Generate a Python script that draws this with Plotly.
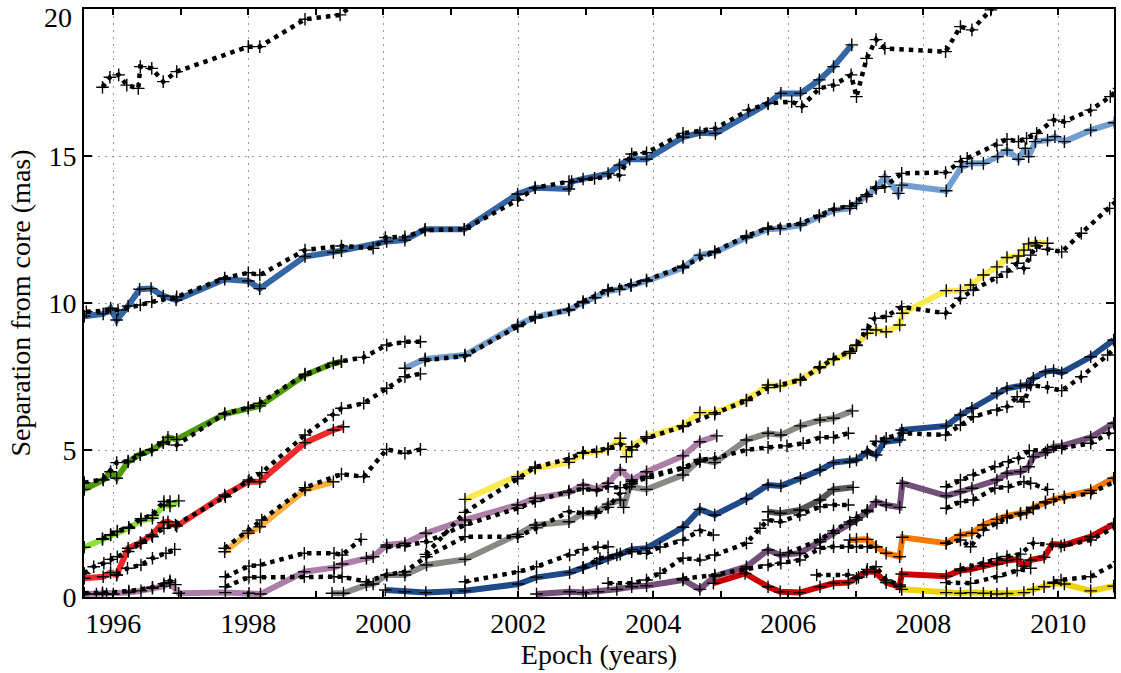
import plotly.graph_objects as go

# ---------------- solid component tracks (epoch in years, separation in mas) ----------------
sky_t = [1995.57, 1995.85, 1995.96, 1996.05, 1996.22, 1996.39, 1996.56, 1996.74, 1996.93, 1997.65,
         1998.0, 1998.17, 1998.84, 1999.26, 1999.38, 2000.05, 2000.32, 2000.62, 2001.2, 2001.99,
         2002.25, 2002.75, 2002.79, 2002.96, 2003.33, 2003.5, 2003.65, 2003.9, 2004.44, 2004.69,
         2004.92, 2005.7, 2005.89, 2006.18, 2006.46, 2006.67, 2006.94]
sky_r = [9.55, 9.63, 9.82, 9.42, 9.9, 10.47, 10.49, 10.24, 10.1, 10.81,
         10.75, 10.49, 11.58, 11.72, 11.78, 12.09, 12.14, 12.51, 12.51, 13.71,
         13.92, 13.88, 14.13, 14.22, 14.4, 14.69, 14.89, 14.89, 15.64, 15.79,
         15.77, 16.79, 17.13, 17.13, 17.59, 18.04, 18.78]

pale_t = [2000.32, 2000.62, 2001.21, 2001.99, 2002.25, 2002.75, 2002.96, 2003.14, 2003.33, 2003.5,
          2003.67, 2003.9, 2004.44, 2004.69, 2004.91, 2005.38, 2005.7, 2005.88, 2006.18, 2006.46,
          2006.68, 2006.91, 2007.01, 2007.16, 2007.3, 2007.43, 2007.63, 2007.68, 2008.34, 2008.57,
          2008.72, 2008.89, 2009.1, 2009.24, 2009.41, 2009.51, 2009.56, 2009.66, 2009.84, 2009.95,
          2010.09, 2010.48, 2010.83]
pale_r = [7.78, 8.1, 8.23, 9.25, 9.53, 9.76, 10.01, 10.18, 10.41, 10.47,
          10.59, 10.75, 11.2, 11.63, 11.72, 12.23, 12.51, 12.53, 12.65, 12.94,
          13.16, 13.22, 13.39, 13.62, 13.9, 14.3, 13.73, 14.01, 13.82, 14.64,
          14.75, 14.75, 14.98, 15.2, 14.89, 15.26, 14.98, 15.49, 15.54, 15.66,
          15.49, 15.88, 16.13]

green_t = [1995.57, 1995.85, 1995.96, 1996.05, 1996.22, 1996.4, 1996.57, 1996.74, 1996.81, 1996.94,
           1997.65, 1998.0, 1998.17, 1998.84, 1999.26, 1999.38]
green_r = [3.66, 3.98, 4.26, 4.04, 4.6, 4.86, 5.0, 5.25, 5.43, 5.36,
           6.22, 6.42, 6.5, 7.55, 7.95, 8.0]

lime_t = [1995.57, 1995.84, 1995.96, 1996.06, 1996.23, 1996.41, 1996.58, 1996.75, 1996.84, 1996.97]
lime_r = [1.69, 1.96, 2.11, 2.22, 2.34, 2.6, 2.68, 3.13, 3.1, 3.27]

scarlet_t = [1995.57, 1995.85, 1995.96, 1996.05, 1996.22, 1996.4, 1996.57, 1996.74, 1996.81, 1996.94,
             1997.65, 1998.0, 1998.17, 1998.84, 1999.26, 1999.41]
scarlet_r = [0.64, 0.69, 0.83, 0.75, 1.66, 1.85, 2.11, 2.53, 2.56, 2.41,
             3.47, 3.92, 3.92, 5.25, 5.68, 5.79]

apricot_t = [1997.65, 1998.0, 1998.17, 1998.84, 1999.26]
apricot_r = [1.54, 2.17, 2.39, 3.64, 3.92]

plum_t = [1995.57, 1995.75, 1995.84, 1995.9, 1996.0, 1996.23, 1996.41, 1996.58, 1996.75, 1996.84,
          1996.97, 1997.66, 1998.01, 1998.18, 1998.83, 1999.27, 1999.39, 1999.75, 1999.85, 2000.05,
          2000.32, 2000.63, 2001.21, 2001.99, 2002.25, 2002.75, 2002.96, 2003.16, 2003.33, 2003.51,
          2003.68, 2003.9, 2004.44, 2004.69, 2004.94]
plum_r = [0.1, 0.1, 0.1, 0.1, 0.1, 0.15, 0.21, 0.3, 0.37, 0.49,
          0.13, 0.15, 0.13, 0.1, 0.86, 1.0, 1.12, 1.32, 1.37, 1.77,
          1.83, 2.17, 2.62, 3.13, 3.36, 3.55, 3.81, 3.66, 3.87, 4.32,
          3.98, 4.26, 4.8, 5.28, 5.48]

butter_t = [2001.21, 2001.99, 2002.25, 2002.75, 2002.96, 2003.16, 2003.33, 2003.51, 2003.6, 2003.68,
            2003.9, 2004.44, 2004.69, 2004.91, 2005.38, 2005.7, 2005.88, 2006.18, 2006.47, 2006.67,
            2006.91, 2007.01, 2007.17, 2007.3, 2007.45, 2007.65, 2007.69, 2008.34, 2008.55, 2008.7,
            2008.89, 2009.09, 2009.24, 2009.41, 2009.49, 2009.56, 2009.66, 2009.84]
butter_r = [3.32, 4.09, 4.38, 4.58, 4.89, 4.94, 5.02, 5.4, 4.77, 5.11,
            5.45, 5.82, 6.27, 6.27, 6.7, 7.21, 7.18, 7.4, 7.83, 8.08,
            8.29, 8.57, 8.97, 9.08, 9.02, 9.25, 9.65, 10.42, 10.42, 10.61,
            10.95, 11.23, 11.55, 11.6, 11.8, 12.01, 12.05, 12.03]

ash_t = [1999.24, 1999.41, 1999.75, 1999.85, 2000.05, 2000.32, 2000.64, 2001.21, 2001.99, 2002.25,
         2002.75, 2002.96, 2003.14, 2003.33, 2003.51, 2003.56, 2003.65, 2003.9, 2004.44, 2004.69,
         2004.91, 2005.38, 2005.7, 2005.89, 2006.18, 2006.47, 2006.67, 2006.95]
ash_r = [0.13, 0.13, 0.41, 0.44, 0.75, 0.75, 1.09, 1.28, 2.13, 2.45,
         2.56, 2.85, 2.85, 3.16, 3.3, 3.05, 3.75, 3.66, 4.15, 4.68,
         4.57, 5.34, 5.57, 5.51, 5.82, 6.02, 6.08, 6.33]

navy_t = [2000.03, 2000.32, 2000.63, 2001.21, 2002.0, 2002.27, 2002.76, 2002.96, 2003.16, 2003.33,
          2003.51, 2003.68, 2003.9, 2004.44, 2004.69, 2004.91, 2005.38, 2005.7, 2005.89, 2006.18,
          2006.47, 2006.67, 2006.91, 2007.01, 2007.17, 2007.3, 2007.42, 2007.65, 2007.68, 2008.34,
          2008.55, 2008.72, 2009.09, 2009.24, 2009.44, 2009.53, 2009.63, 2009.81, 2009.93, 2010.05,
          2010.48, 2010.82]
navy_r = [0.24, 0.18, 0.15, 0.21, 0.44, 0.67, 0.83, 1.0, 1.15, 1.32,
          1.46, 1.62, 1.66, 2.37, 2.98, 2.79, 3.34, 3.81, 3.78, 4.04,
          4.32, 4.57, 4.6, 4.66, 4.94, 4.83, 5.28, 5.34, 5.68, 5.82,
          6.19, 6.42, 6.93, 7.1, 7.18, 7.21, 7.44, 7.66, 7.7, 7.63,
          8.17, 8.74]

slate_t = [2005.7, 2005.88, 2006.17, 2006.47, 2006.67, 2006.96]
slate_r = [2.9, 2.85, 2.96, 3.3, 3.66, 3.73]

grape_t = [2002.27, 2002.76, 2002.96, 2003.18, 2003.46, 2003.68, 2003.9, 2004.44, 2004.69, 2004.91,
           2005.38, 2005.7, 2005.88, 2006.17, 2006.47, 2006.67, 2006.91, 2007.01, 2007.17, 2007.3,
           2007.45, 2007.65, 2007.69, 2008.34, 2008.55, 2008.72, 2009.09, 2009.24, 2009.44, 2009.56,
           2009.63, 2009.81, 2009.93, 2010.05, 2010.48, 2010.82]
grape_r = [0.1, 0.18, 0.15, 0.18, 0.26, 0.35, 0.38, 0.58, 0.26, 0.71,
           1.03, 1.6, 1.43, 1.49, 1.88, 2.17, 2.48, 2.62, 2.9, 3.24,
           3.13, 3.05, 3.87, 3.44, 3.58, 3.7, 3.98, 4.21, 4.26, 4.43,
           4.77, 4.91, 5.11, 5.14, 5.43, 5.91]

tangerine_t = [2006.91, 2007.01, 2007.17, 2007.3, 2007.45, 2007.65, 2007.69, 2008.34, 2008.55, 2008.72,
               2008.89, 2009.09, 2009.24, 2009.44, 2009.53, 2009.63, 2009.81, 2009.93, 2010.09, 2010.48,
               2010.82]
tangerine_r = [1.94, 1.96, 1.96, 1.71, 1.49, 1.37, 2.03, 1.83, 2.11, 2.17,
               2.45, 2.64, 2.76, 2.85, 2.87, 3.05, 3.24, 3.32, 3.41, 3.62,
               4.04]

crimson_t = [2004.89, 2005.36, 2005.7, 2005.88, 2006.17, 2006.47, 2006.67, 2006.89, 2007.04, 2007.16,
             2007.28, 2007.45, 2007.65, 2007.68, 2008.34, 2008.55, 2008.7, 2008.89, 2009.09, 2009.24,
             2009.39, 2009.49, 2009.59, 2009.79, 2009.91, 2010.09, 2010.48, 2010.82]
crimson_r = [0.47, 0.8, 0.35, 0.18, 0.15, 0.35, 0.47, 0.49, 0.67, 0.86,
             0.86, 0.49, 0.35, 0.78, 0.71, 0.9, 0.94, 1.05, 1.12, 1.24,
             1.28, 1.05, 1.26, 1.35, 1.8, 1.77, 2.05, 2.48]

gold_t = [2007.68, 2008.34, 2008.55, 2008.7, 2008.89, 2009.09, 2009.24, 2009.49, 2009.63, 2009.79,
          2009.93, 2010.09, 2010.48, 2010.82]
gold_r = [0.26, 0.15, 0.13, 0.15, 0.13, 0.1, 0.12, 0.15, 0.26, 0.35,
          0.47, 0.44, 0.21, 0.37]

# ---------------- dotted comparison tracks ----------------
top_t = [1995.84, 1995.95, 1996.08, 1996.2, 1996.37, 1996.4, 1996.57, 1996.74, 1996.94, 1998.0,
         1998.17, 1998.84, 1999.36, 1999.7]
top_r = [17.34, 17.68, 17.76, 17.41, 17.3, 18.04, 17.98, 17.53, 17.87, 18.72,
         18.72, 19.65, 19.8, 20.4]

skyd_t = [1995.6, 1996.07, 1996.4, 1996.57, 1996.94, 1997.65, 1998.0, 1998.17, 1998.84, 1999.38,
          1999.85, 2000.03, 2000.32, 2000.62, 2001.2, 2001.99, 2002.25, 2002.75, 2003.13, 2003.5,
          2003.68, 2003.9, 2004.44, 2004.92, 2005.41, 2005.7, 2006.05, 2006.2, 2006.46, 2006.67,
          2006.93, 2007.01, 2007.16, 2007.3, 2007.43, 2008.33, 2008.55, 2008.72, 2009.0, 2009.25]
skyd_r = [9.7, 9.76, 9.93, 10.04, 10.21, 10.85, 11.03, 10.95, 11.8, 11.94,
          11.86, 12.23, 12.25, 12.48, 12.51, 13.5, 13.92, 14.13, 14.24, 14.35,
          15.07, 15.11, 15.77, 15.94, 16.56, 16.79, 16.85, 16.68, 17.3, 17.41,
          17.76, 17.02, 18.32, 18.96, 18.66, 18.55, 19.4, 19.29, 19.97, 20.6]

paled_t = [2000.62, 2001.21, 2001.99, 2002.25, 2002.75, 2002.96, 2003.33, 2003.67, 2003.9, 2004.44,
           2004.91, 2005.38, 2005.7, 2006.18, 2006.46, 2006.68, 2006.91, 2007.16, 2007.3, 2007.43,
           2007.68, 2008.33, 2008.55, 2008.65, 2009.09, 2009.24, 2009.41, 2009.53, 2009.68, 2009.93,
           2010.09, 2010.48, 2010.77, 2010.9]
paled_r = [8.05, 8.2, 9.2, 9.5, 9.78, 10.05, 10.45, 10.62, 10.78, 11.25,
           11.75, 12.28, 12.55, 12.7, 12.98, 13.2, 13.3, 13.68, 13.95, 13.96,
           14.41, 14.44, 14.81, 14.92, 15.37, 15.57, 15.49, 15.6, 15.77, 16.22,
           16.17, 16.56, 17.02, 17.3]

greend_t = [1995.57, 1995.85, 1996.05, 1996.22, 1996.4, 1996.57, 1996.74, 1996.94, 1997.65, 1998.0,
            1998.17, 1998.84, 1999.38, 1999.71, 2000.05, 2000.32, 2000.55]
greend_r = [3.89, 4.0, 4.57, 4.62, 4.84, 5.0, 5.27, 5.17, 6.24, 6.44,
            6.59, 7.58, 8.02, 8.15, 8.57, 8.68, 8.68]

limed_t = [1995.84, 1995.96, 1996.06, 1996.23, 1996.41, 1996.58, 1996.75, 1996.84]
limed_r = [1.98, 2.12, 2.24, 2.37, 2.66, 2.78, 3.25, 3.25]

scarletd_t = [1995.57, 1995.71, 1995.86, 1995.96, 1996.06, 1996.22, 1996.41, 1996.58, 1996.75, 1996.92,
              1997.66, 1998.01, 1998.2, 1998.84, 1999.26, 1999.38, 1999.71, 2000.05, 2000.32, 2000.55]
scarletd_r = [0.8, 1.03, 1.15, 1.28, 1.37, 1.55, 1.83, 2.05, 2.34, 2.45,
              3.41, 3.98, 4.23, 5.51, 6.19, 6.42, 6.59, 7.1, 7.49, 7.59]

scarletd2_t = [1996.05, 1996.21, 1996.41, 1996.58, 1996.78, 1996.91]
scarletd2_r = [0.75, 0.98, 1.09, 1.32, 1.49, 1.62]

apricotd_t = [1997.65, 1998.0, 1998.2, 1998.84, 1999.38, 1999.71, 2000.05, 2000.32, 2000.55]
apricotd_r = [1.66, 2.25, 2.62, 3.72, 4.18, 4.09, 5.02, 4.89, 5.02]

plumd_t = [1995.57, 1995.84, 1996.23, 1996.58, 1996.75, 1996.84, 1996.92]
plumd_r = [0.13, 0.14, 0.2, 0.33, 0.45, 0.55, 0.42]

plumd2_t = [1997.66, 1998.01, 1998.18, 1998.83, 1999.27, 1999.39, 1999.67]
plumd2_r = [0.69, 1.05, 1.09, 1.49, 1.49, 1.43, 1.96]

plumd3_t = [2000.05, 2000.32, 2000.64, 2001.21, 2001.99, 2002.25, 2002.75, 2002.96, 2003.16, 2003.33,
            2003.51, 2003.68, 2003.9, 2004.44, 2004.69]
plumd3_r = [1.7, 1.75, 1.88, 2.45, 3.02, 3.25, 3.6, 3.68, 3.62, 3.75,
            3.72, 3.85, 4.1, 4.4, 4.6]

butterd_t = [2000.63, 2001.21, 2001.99, 2002.25, 2002.75, 2002.96, 2003.33, 2003.51, 2003.68, 2003.9,
             2004.44, 2004.91, 2005.38, 2005.7, 2006.18, 2006.46, 2006.67, 2006.91, 2007.01, 2007.17,
             2007.28, 2007.45, 2007.68, 2008.33, 2008.55, 2008.74, 2009.09, 2009.24, 2009.39, 2009.49,
             2009.59, 2009.68, 2009.84, 2010.05, 2010.34, 2010.76, 2010.9]
butterd_r = [1.45, 2.88, 4.02, 4.42, 4.7, 4.92, 5.05, 5.2, 5.0, 5.4,
             5.8, 6.22, 6.68, 7.12, 7.38, 7.8, 8.1, 8.35, 8.55, 9.1,
             9.48, 9.54, 9.87, 9.65, 10.16, 10.44, 10.87, 11.06, 11.35, 11.18,
             11.63, 11.94, 11.83, 11.74, 12.37, 13.22, 13.55]

ashd_t = [1997.66, 1998.01, 1998.18, 1998.83, 1999.27, 1999.39, 1999.75, 2000.05, 2000.32, 2000.64,
          2001.21, 2001.99, 2002.27, 2002.75, 2002.96, 2003.16, 2003.33, 2003.51, 2003.68, 2003.9,
          2004.44, 2004.69, 2004.91, 2005.38, 2005.7, 2005.98, 2006.22, 2006.47, 2006.67, 2006.89]
ashd_r = [0.35, 0.67, 0.67, 0.69, 0.69, 0.69, 0.52, 0.75, 0.86, 1.37,
          2.05, 2.05, 2.35, 2.9, 2.85, 2.9, 3.05, 3.53, 3.92, 4.04,
          4.38, 4.66, 4.72, 5.0, 5.09, 5.14, 5.23, 5.43, 5.43, 5.57]

navyd_t = [2001.21, 2002.0, 2002.27, 2002.76, 2002.96, 2003.18, 2003.33]
navyd_r = [0.52, 0.86, 1.03, 1.43, 1.62, 1.69, 1.71]

navyd2_t = [2002.96, 2003.21, 2003.46, 2003.68, 2003.9, 2004.1, 2004.44, 2004.69, 2004.89]
navyd2_r = [1.0, 1.31, 1.43, 1.54, 1.49, 1.7, 1.94, 2.26, 2.11]

navyd3_t = [2007.17, 2007.3, 2007.45, 2007.7, 2008.33, 2008.55, 2008.74, 2009.09, 2009.24, 2009.39,
            2009.49, 2009.59, 2009.84, 2010.05, 2010.34, 2010.73, 2010.9]
navyd3_r = [4.9, 5.3, 5.4, 5.57, 5.51, 5.85, 6.13, 6.36, 6.47, 6.81,
            6.64, 7.21, 7.13, 7.02, 7.49, 8.23, 8.6]

slated_t = [2003.33, 2003.68, 2003.9, 2004.1, 2004.44, 2004.69, 2004.91, 2005.38, 2005.58, 2005.7,
            2005.88, 2006.17, 2006.47, 2006.67, 2006.89]
slated_r = [0.47, 0.47, 0.58, 0.81, 1.32, 1.26, 1.43, 1.83, 2.34, 2.62,
            2.56, 2.79, 3.07, 3.13, 3.13]

graped_t = [2004.44, 2004.91, 2005.38, 2005.7, 2005.89, 2006.17, 2006.47, 2006.67, 2006.89, 2007.01,
            2007.17, 2007.3]
graped_r = [0.62, 0.75, 0.95, 1.09, 1.15, 1.26, 1.66, 1.71, 1.71, 1.71,
            1.71, 1.71]

graped2_t = [2006.0, 2006.47, 2006.67, 2006.91, 2007.01, 2007.17]
graped2_r = [1.5, 1.95, 2.25, 2.55, 2.7, 2.95]

graped3_t = [2008.34, 2008.55, 2008.74, 2009.06, 2009.26, 2009.41, 2009.57, 2009.84, 2010.05, 2010.48,
             2010.75, 2010.9]
graped3_r = [3.75, 3.98, 4.15, 4.43, 4.6, 4.72, 4.98, 5.0, 5.06, 5.23,
             5.57, 5.8]

graped4_t = [2008.34, 2008.55, 2008.74, 2009.06, 2009.26, 2009.49, 2009.59, 2009.84]
graped4_r = [3.02, 3.24, 3.3, 3.7, 3.75, 3.92, 3.87, 3.66]

tangerined_t = [2008.34, 2008.55, 2008.7, 2008.89, 2009.09, 2009.24, 2009.44, 2009.63, 2009.81, 2010.09,
                2010.48, 2010.9]
tangerined_r = [1.83, 1.94, 1.71, 2.28, 2.51, 2.7, 2.82, 3.0, 3.2, 3.38,
                3.53, 4.0]

crimsond_t = [2006.42, 2006.89, 2007.01, 2007.17, 2007.3, 2007.45, 2007.65]
crimsond_r = [0.75, 0.75, 0.64, 0.94, 1.03, 0.58, 0.41]

crimsond2_t = [2008.55, 2008.89, 2009.09, 2009.24, 2009.44, 2009.63, 2010.04, 2010.48, 2010.9]
crimsond2_r = [0.95, 1.15, 1.3, 1.38, 1.46, 1.83, 1.73, 1.94, 2.45]

crimsond3_t = [2008.34, 2008.7, 2009.09, 2009.39, 2009.59]
crimsond3_r = [0.49, 0.47, 0.69, 0.9, 0.98]

goldd_t = [2009.93, 2010.04, 2010.48, 2010.9]
goldd_r = [0.5, 0.58, 0.69, 1.2]

# axis ticks
year_ticks = [1996, 1998, 2000, 2002, 2004, 2006, 2008, 2010]
sep_ticks = [0, 5, 10, 15, 20]

# ---------------- styling tables built from the arrays ----------------
solid_tracks = [
    (sky_t, sky_r, "#3465a4"), (pale_t, pale_r, "#729fcf"), (green_t, green_r, "#4e9a06"),
    (lime_t, lime_r, "#8ae234"), (scarlet_t, scarlet_r, "#ef2929"), (apricot_t, apricot_r, "#fcaf3e"),
    (plum_t, plum_r, "#ad7fa8"), (butter_t, butter_r, "#fce94f"), (ash_t, ash_r, "#888a85"),
    (navy_t, navy_r, "#204a87"), (slate_t, slate_r, "#555753"), (grape_t, grape_r, "#75507b"),
    (tangerine_t, tangerine_r, "#f57900"), (crimson_t, crimson_r, "#cc0000"), (gold_t, gold_r, "#edd400"),
]
dotted_tracks = [
    (top_t, top_r), (skyd_t, skyd_r), (paled_t, paled_r), (greend_t, greend_r), (limed_t, limed_r),
    (scarletd_t, scarletd_r), (scarletd2_t, scarletd2_r), (apricotd_t, apricotd_r), (plumd_t, plumd_r),
    (plumd2_t, plumd2_r), (plumd3_t, plumd3_r), (butterd_t, butterd_r), (ashd_t, ashd_r),
    (navyd_t, navyd_r), (navyd2_t, navyd2_r), (navyd3_t, navyd3_r), (slated_t, slated_r),
    (graped_t, graped_r), (graped2_t, graped2_r), (graped3_t, graped3_r), (graped4_t, graped4_r),
    (tangerined_t, tangerined_r), (crimsond_t, crimsond_r), (crimsond2_t, crimsond2_r),
    (crimsond3_t, crimsond3_r), (goldd_t, goldd_r),
]

fig = go.Figure()

for t, r, c in solid_tracks:
    fig.add_trace(go.Scatter(x=t, y=r, mode="lines", line=dict(color=c, width=6),
                             hoverinfo="skip", showlegend=False))

for t, r in dotted_tracks:
    fig.add_trace(go.Scatter(x=t, y=r, mode="lines",
                             line=dict(color="black", width=4.5, dash="4.5px,5px"),
                             hoverinfo="skip", showlegend=False))

# epoch markers on every track
for t, r in [(a, b) for a, b, _ in solid_tracks] + dotted_tracks:
    fig.add_trace(go.Scatter(x=t, y=r, mode="markers",
                             marker=dict(symbol="cross-thin", size=9, color="black",
                                         line=dict(width=1.4, color="black")),
                             hoverinfo="skip", showlegend=False))

font_family = "Liberation Serif, DejaVu Serif, serif"
fsize = 28

fig.update_layout(
    width=1121, height=673,
    margin=dict(l=84, r=7, t=9, b=76),
    paper_bgcolor="white", plot_bgcolor="white",
    font=dict(family=font_family, size=fsize, color="black"),
    showlegend=False,
)

fig.update_xaxes(
    range=[1995.566, 2010.825],
    automargin=False,
    tickvals=year_ticks, ticktext=[str(y) for y in year_ticks],
    ticks="inside", ticklen=6, tickwidth=1.5, tickcolor="black",
    showline=True, linewidth=2, linecolor="black", mirror="ticks",
    showgrid=True, gridcolor="#9a9a9a", gridwidth=1, griddash="2px,5px",
    zeroline=False,
    minor=dict(dtick=1, tick0=1995, ticks="inside", ticklen=6, tickwidth=1.5,
               tickcolor="black", showgrid=False),
    title=dict(text="Epoch (years)", standoff=0, font=dict(size=fsize)),
    tickfont=dict(size=fsize),
)

# the top label sits against the page edge, so it is placed as a note just inside it
y_labels = [str(v) if v != sep_ticks[-1] else "" for v in sep_ticks]
fig.update_yaxes(
    range=[0, 20],
    automargin=False,
    tickvals=sep_ticks, ticktext=y_labels,
    ticks="inside", ticklen=8, tickwidth=1.5, tickcolor="black",
    showline=True, linewidth=2, linecolor="black", mirror="ticks",
    showgrid=True, gridcolor="#9a9a9a", gridwidth=1, griddash="2px,5px",
    zeroline=False,
    title=dict(text="Separation from core (mas)", standoff=10, font=dict(size=fsize)),
    tickfont=dict(size=fsize),
)
fig.add_annotation(
    x=0, xref="paper", y=sep_ticks[-1], yref="y",
    text=str(sep_ticks[-1]), showarrow=False,
    xanchor="right", yanchor="top", xshift=-10, yshift=9,
    font=dict(family=font_family, size=fsize, color="black"),
)

fig.write_html("out.html")
